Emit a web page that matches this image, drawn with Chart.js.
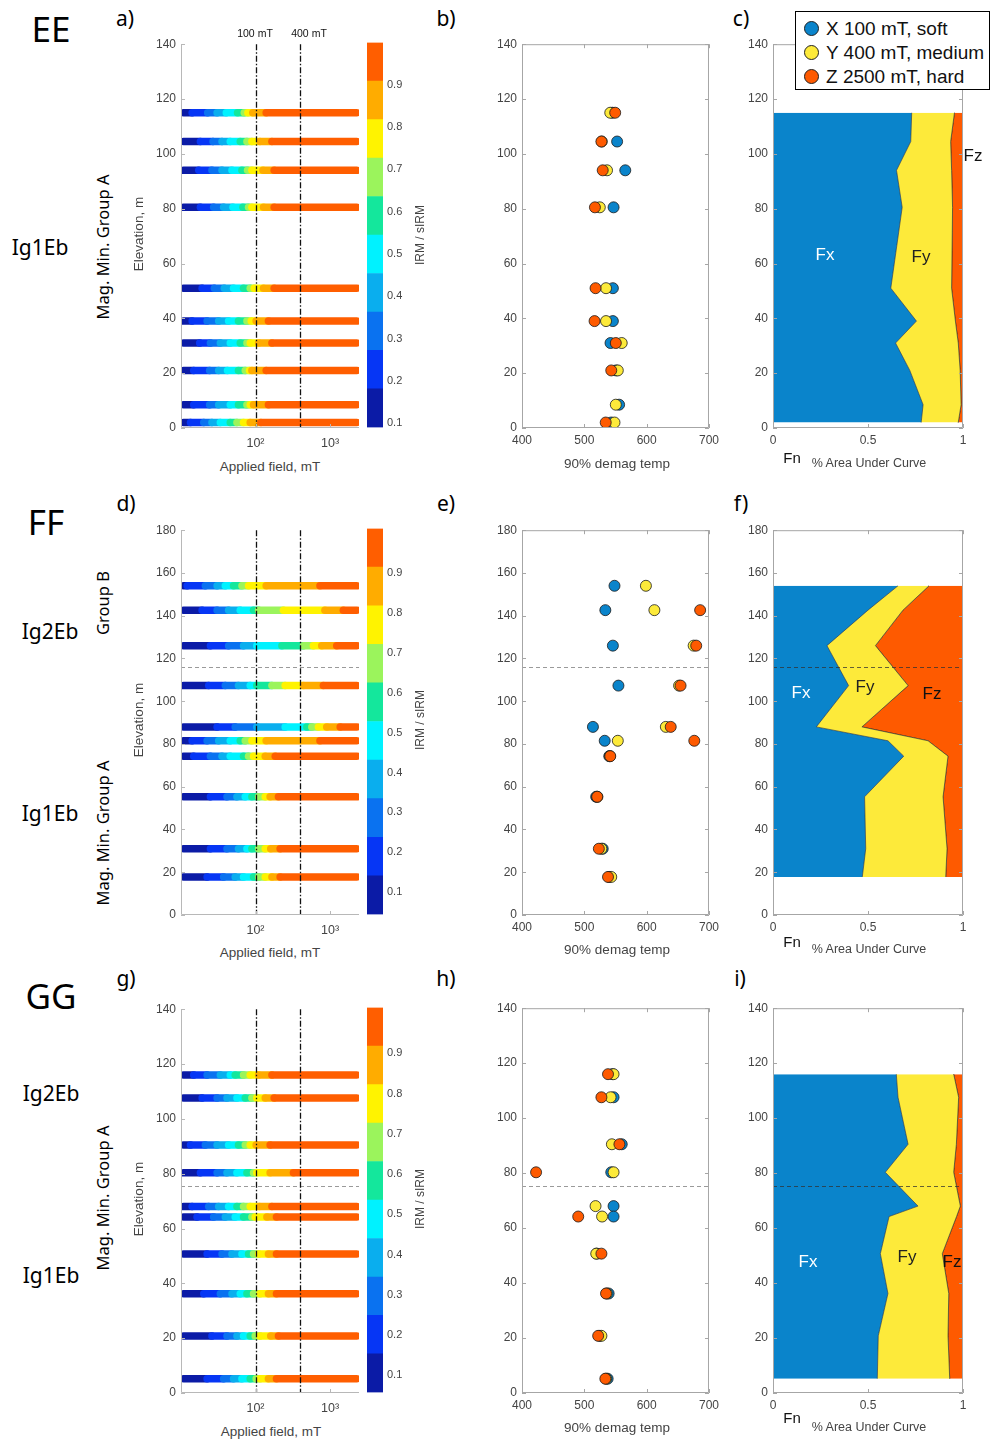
<!DOCTYPE html>
<html>
<head>
<meta charset="utf-8">
<script src="https://cdn.jsdelivr.net/npm/chart.js@4.4.1/dist/chart.umd.min.js"></script>
<style>
  body { margin: 0; background: #fff; }
  #page { position: relative; width: 1000px; height: 1441px; overflow: hidden; background: #fff; font-family: "Liberation Sans", Arial, sans-serif; }
  canvas { position: absolute; }
  .t { position: absolute; white-space: nowrap; line-height: 1; transform: translate(-50%, -50%); }
  .r { transform: translate(-50%, -50%) rotate(-90deg); }
  .big { font-family: "Noto Sans", "Open Sans", sans-serif; }
</style>
</head>
<body>
<div id="page"></div>
<script>
// colour levels of the IRM / sIRM colour bar (dark blue -> orange)
const bandColors = ['#0b1ba6', '#0636f5', '#0a72f0', '#0aaeee', '#00f2ff', '#14e79c', '#9bf45c', '#fff300', '#ffac00', '#ff5e00'];
const softColor = '#0a84cb', medColor = '#fdea3a', hardColor = '#fe5a00';
const legendLabels = ['X 100 mT, soft', 'Y 400 mT, medium', 'Z 2500 mT, hard'];

// ticks
const elevTicks140 = [0, 20, 40, 60, 80, 100, 120, 140];
const elevTicks180 = [0, 20, 40, 60, 80, 100, 120, 140, 160, 180];
const fieldTicks = [100, 1000];
const fieldTickLabels = ['10²', '10³'];
const tempTicks = [400, 500, 600, 700];
const fracTicks = [0, 0.5, 1];
const fracTickLabels = ['0', '0.5', '1'];
const cbarTicks = [0.1, 0.2, 0.3, 0.4, 0.5, 0.6, 0.7, 0.8, 0.9];
const refFields = [100, 400];

// ---- EE ----
const eeElev = [115, 104.5, 94, 80.5, 51, 39, 31, 21, 8.5, 2];
// field (mT) where each colour level starts, last value = end of the row
const eeIrmSteps = [
  [10.8, 14.1, 22.8, 30.5, 40.5, 57.4, 70.6, 79, 92, 139, 2300],
  [10.8, 18.2, 26.9, 35.5, 45.8, 62.4, 76.7, 89.4, 115, 166, 2300],
  [10.8, 17.3, 26, 35.5, 48.3, 65.7, 78.2, 89.4, 126, 178, 2300],
  [10.8, 18.2, 27.4, 37.3, 49.8, 67.8, 80.6, 89.4, 128, 178, 2300],
  [10.8, 19.2, 28, 38.1, 50.7, 69, 84.9, 96, 128, 178, 2300],
  [10.8, 14.1, 22.4, 32, 43.5, 59, 76.7, 87.6, 102, 149, 2300],
  [10.8, 17.8, 24.8, 33.7, 45.8, 62.4, 76.7, 85, 110, 166, 2300],
  [10.8, 14.8, 24.2, 32, 42.1, 59, 72.8, 83, 89.4, 139, 2300],
  [10.8, 14.8, 24.2, 32, 45.8, 59, 76.7, 84.9, 94, 149, 2300],
  [10.8, 13.4, 20.2, 26, 33.7, 45.8, 56.3, 69, 84.9, 118, 2300]
];
const eeT90Soft = [545, 552.6, 565.7, 546.9, 545.8, 545.8, 542, 551, 555.8, 543];
const eeT90Med = [541.6, 528, 536.4, 524.8, 534.8, 534.8, 560, 553.7, 550.5, 548.4];
const eeT90Hard = [549.5, 527.4, 529.5, 517, 518, 516.4, 550.5, 543.2, null, 534.3];
const eeFx = [0.73, 0.725, 0.65, 0.68, 0.62, 0.755, 0.645, 0.72, 0.79, 0.78];
const eeFy = [0.225, 0.21, 0.29, 0.265, 0.32, 0.205, 0.33, 0.265, 0.2, 0.195];
const eeCbarRange = [0.09, 1.0];

// ---- FF ----
const ffElev = [154, 142.6, 126, 107.3, 88, 81.5, 74.3, 55.3, 31, 17.8];
const ffIrmSteps = [
  [10.8, 12.1, 21.2, 30.5, 39.3, 50.7, 65.8, 80.6, 139, 733, 2300],
  [10.8, 19.2, 30.5, 43.5, 62.4, 94, 110, 237, 854, 1510, 2300],
  [10.8, 24.8, 43.5, 69, 104, 226, 440, 598, 774, 1230, 2300],
  [10.8, 23.5, 39.3, 59, 84.9, 104, 166, 250, 440, 814, 2300],
  [10.8, 30.5, 53.4, 104, 250, 488, 570, 698, 903, 1370, 2300],
  [10.8, 14.1, 22.4, 32, 45.8, 62.4, 72.8, 89.4, 139, 733, 2300],
  [10.8, 14.8, 24.8, 35.5, 45.8, 69, 80.6, 94, 135, 184, 2300],
  [10.8, 24.8, 41.4, 56.3, 72.8, 89.4, 110, 135, 157, 203, 2300],
  [10.8, 24.8, 41.4, 59, 76.7, 89.4, 110, 135, 160, 214, 2300],
  [10.8, 22.4, 37.3, 53.4, 69, 94, 110, 135, 166, 214, 2300]
];
const ffT90Soft = [548.4, 533.7, 545.8, 554.7, 513.8, 532.7, 540, 519, 529.5, 540];
const ffT90Med = [598.8, 612.4, 675.4, 652, 630.8, 553.7, 541, 521, 527.4, 543.2];
const ffT90Hard = [null, 685.8, 679.5, 654.4, 638.6, 676.4, 541.6, 520.6, 523.3, 538];
const ffFx = [0.658, 0.5, 0.284, 0.398, 0.228, 0.605, 0.688, 0.482, 0.488, 0.47];
const ffFy = [0.163, 0.184, 0.255, 0.313, 0.24, 0.211, 0.233, 0.413, 0.428, 0.439];
const ffCbarRange = [0.045, 1.01];
const ffGroupTop = 115.8;

// ---- GG ----
const ggElev = [116, 107.6, 90.5, 80.3, 68, 64.2, 50.7, 36.2, 20.8, 5.2];
const ggIrmSteps = [
  [10.8, 14.8, 22.4, 33.7, 45.8, 53.4, 69, 84.9, 110, 166, 2300],
  [10.8, 19.2, 30.5, 41.4, 56.3, 72.8, 89.4, 104, 135, 178, 2300],
  [10.8, 13.4, 21.2, 30.5, 43.5, 59, 72.8, 84.9, 102, 157, 2300],
  [10.8, 18.2, 30.5, 41.4, 56.3, 76.7, 94, 104, 157, 323, 2300],
  [10.8, 14.1, 23.5, 32, 43.5, 56.3, 69, 84.9, 113, 166, 2300],
  [10.8, 16.4, 27.4, 39.3, 53.4, 69, 89.4, 99, 142, 191, 2300],
  [10.8, 22.4, 35.5, 48.3, 65.7, 80.6, 94, 110, 149, 191, 2300],
  [10.8, 20.2, 33.7, 48.3, 62.4, 76.7, 94, 115, 149, 191, 2300],
  [10.8, 26, 41.4, 56.3, 69, 84.9, 99, 115, 160, 203, 2300],
  [10.8, 22.4, 37.3, 50.7, 65.7, 84.9, 102, 115, 149, 191, 2300]
];
const ggT90Soft = [545, 546.9, 560, 543.2, 546.9, 546.9, 520, 539, 525, 537.4];
const ggT90Med = [546.9, 542.1, 544.2, 546.9, 518, 528.5, 519.1, 536, 527.4, 535];
const ggT90Hard = [538, 527.4, 556.3, 422.6, null, 490.2, 527.4, 534.8, 522.2, 533.7];
const ggFx = [0.649, 0.658, 0.711, 0.591, 0.763, 0.611, 0.565, 0.605, 0.554, 0.549];
const ggFy = [0.302, 0.319, 0.254, 0.36, 0.223, 0.355, 0.326, 0.32, 0.367, 0.381];
const ggCbarRange = [0.057, 1.014];
const ggGroupTop = 75.4;

const page = document.getElementById('page');
const FONT = { family: '"Liberation Sans", Arial, sans-serif', size: 12 };

// draws the axis lines / box and inward tick marks
const frame = {
  id: 'frame',
  afterDraw(chart, args, o) {
    const { ctx, chartArea: a } = chart;
    const xs = chart.scales.x, ys = chart.scales.y;
    ctx.save();
    ctx.strokeStyle = o.color || '#a6a6a6';
    ctx.lineWidth = 1;
    ctx.beginPath();
    if (o.box) {
      ctx.rect(a.left + 0.5, a.top + 0.5, a.width - 1, a.height - 1);
    } else {
      ctx.moveTo(a.left + 0.5, a.top);
      ctx.lineTo(a.left + 0.5, a.bottom - 0.5);
      ctx.lineTo(a.right, a.bottom - 0.5);
    }
    const len = 4;
    xs.ticks.forEach((t, i) => {
      const p = Math.round(xs.getPixelForTick(i)) + 0.5;
      ctx.moveTo(p, a.bottom); ctx.lineTo(p, a.bottom - len);
      if (o.box) { ctx.moveTo(p, a.top); ctx.lineTo(p, a.top + len); }
    });
    ys.ticks.forEach((t, i) => {
      const p = Math.round(ys.getPixelForTick(i)) + 0.5;
      ctx.moveTo(a.left, p); ctx.lineTo(a.left + len, p);
      if (o.box) { ctx.moveTo(a.right, p); ctx.lineTo(a.right - len, p); }
    });
    ctx.stroke();
    ctx.restore();
  }
};

// reference lines: 100 / 400 mT and group boundary
const refs = {
  id: 'refs',
  afterDatasetsDraw(chart, args, o) {
    const { ctx, chartArea: a, scales: { x, y } } = chart;
    ctx.save();
    if (o.hy != null) {
      ctx.strokeStyle = o.hColor;
      ctx.lineWidth = 1;
      ctx.setLineDash([4, 3]);
      const p = Math.round(y.getPixelForValue(o.hy)) + 0.5;
      ctx.beginPath(); ctx.moveTo(a.left, p); ctx.lineTo(a.right, p); ctx.stroke();
    }
    (o.vx || []).forEach(v => {
      ctx.strokeStyle = '#111';
      ctx.lineWidth = 1.3;
      ctx.setLineDash([6, 2, 1.5, 2]);
      const p = Math.round(x.getPixelForValue(v)) + 0.5;
      ctx.beginPath(); ctx.moveTo(p, a.top); ctx.lineTo(p, a.bottom); ctx.stroke();
    });
    ctx.restore();
  }
};

function axis(extra, ticks, labels, pad, size) {
  return Object.assign({
    grid: { display: false, drawTicks: false },
    border: { display: false },
    ticks: {
      font: { family: FONT.family, size: size || FONT.size }, color: '#444', padding: pad,
      autoSkip: false, maxRotation: 0,
      callback: (v, i) => labels ? labels[i] : String(v)
    },
    afterBuildTicks: s => { s.ticks = ticks.map(v => ({ value: v })); }
  }, extra);
}

function make(rect, pads, config) {
  const [pl, pr, pt, pb] = pads;
  const c = document.createElement('canvas');
  const w = rect[2] - rect[0] + pl + pr, h = rect[3] - rect[1] + pt + pb;
  c.width = w; c.height = h;
  c.style.width = w + 'px'; c.style.height = h + 'px';
  c.style.left = (rect[0] - pl) + 'px'; c.style.top = (rect[1] - pt) + 'px';
  page.appendChild(c);
  config.options = Object.assign({ responsive: false, animation: false, devicePixelRatio: 1, events: [] }, config.options);
  config.options.plugins = Object.assign({ legend: { display: false }, tooltip: { enabled: false } }, config.options.plugins);
  return new Chart(c, config);
}

function irmChart(rect, elev, steps, yTicks, yMax, groupTop) {
  const datasets = elev.map((e, i) => {
    const s = steps[i], pts = [], bands = [];
    for (let k = 0; k < bandColors.length; k++) {
      if (s[k + 1] > s[k]) { pts.push({ x: s[k], y: e }); bands.push(k); }
    }
    pts.push({ x: s[s.length - 1], y: e });
    return {
      data: pts, showLine: true, pointRadius: 0, borderWidth: 7.5, borderCapStyle: 'round',
      borderColor: bandColors[9],
      segment: { borderColor: ctx => bandColors[bands[ctx.p0DataIndex]] }
    };
  });
  make(rect, [45, 8, 10, 30], {
    type: 'scatter',
    data: { datasets },
    options: {
      layout: { padding: { top: 10, right: 8, left: 0, bottom: 0 } },
      scales: {
        x: axis({ type: 'logarithmic', min: 10, max: 2450, afterFit: s => { s.height = 30; } }, fieldTicks, fieldTickLabels, 8, 12.5),
        y: axis({ type: 'linear', min: 0, max: yMax, afterFit: s => { s.width = 45; } }, yTicks, null, 5)
      },
      plugins: { frame: { box: false, color: '#b8b8b8' }, refs: { vx: refFields, hy: groupTop, hColor: '#9a9a9a' } }
    },
    plugins: [frame, refs]
  });
}

function cbarChart(rect, range) {
  const step = (range[1] - range[0]) / bandColors.length;
  const datasets = bandColors.map((c, k) => ({
    data: [[range[0] + k * step, range[0] + (k + 1) * step]],
    backgroundColor: c, borderWidth: 0, grouped: false, barPercentage: 1, categoryPercentage: 1
  }));
  make(rect, [0, 32, 10, 10], {
    type: 'bar',
    data: { labels: [''], datasets },
    options: {
      layout: { padding: { top: 10, right: 0, left: 0, bottom: 10 } },
      scales: {
        x: { display: false },
        y: axis({ position: 'right', min: range[0], max: range[1], afterFit: s => { s.width = 32; } },
          cbarTicks, cbarTicks.map(v => v.toFixed(1)), 4, 11)
      }
    }
  });
}

function t90Chart(rect, elev, soft, med, hard, yTicks, yMax, groupTop) {
  const ds = (vals, color) => ({
    data: vals.map((v, i) => v == null ? null : { x: v, y: elev[i] }).filter(Boolean),
    backgroundColor: color, borderColor: '#1a1a1a', borderWidth: 0.8, pointRadius: 5.5
  });
  // first dataset is drawn on top: hard over medium over soft
  make(rect, [45, 12, 10, 30], {
    type: 'scatter',
    data: { datasets: [ds(hard, hardColor), ds(med, medColor), ds(soft, softColor)] },
    options: {
      layout: { padding: { top: 10, right: 12, left: 0, bottom: 0 } },
      scales: {
        x: axis({ type: 'linear', min: 400, max: 700, afterFit: s => { s.height = 30; } }, tempTicks, null, 5),
        y: axis({ type: 'linear', min: 0, max: yMax, afterFit: s => { s.width = 45; } }, yTicks, null, 5)
      },
      plugins: { frame: { box: true }, refs: { hy: groupTop, hColor: '#9a9a9a' } }
    },
    plugins: [frame, refs]
  });
}

function areaChart(rect, elev, fx, fy, yTicks, yMax, groupTop) {
  const soft = elev.map((e, i) => ({ x: fx[i], y: e }));
  const med = elev.map((e, i) => ({ x: fx[i] + fy[i], y: e }));
  const edge = 'rgba(45,45,45,0.75)';
  make(rect, [45, 12, 10, 30], {
    type: 'line',
    data: {
      datasets: [
        { data: soft, fill: 'origin', backgroundColor: softColor, borderColor: edge, borderWidth: 0.8, pointRadius: 0, tension: 0 },
        { data: med, fill: '-1', backgroundColor: medColor, borderColor: edge, borderWidth: 0.8, pointRadius: 0, tension: 0 },
        { data: med, fill: 'end', backgroundColor: hardColor, borderColor: edge, borderWidth: 0.8, pointRadius: 0, tension: 0 }
      ]
    },
    options: {
      indexAxis: 'y',
      layout: { padding: { top: 10, right: 12, left: 0, bottom: 0 } },
      scales: {
        x: axis({ type: 'linear', min: 0, max: 1, afterFit: s => { s.height = 30; } }, fracTicks, fracTickLabels, 5),
        y: axis({ type: 'linear', min: 0, max: yMax, afterFit: s => { s.width = 45; } }, yTicks, null, 5)
      },
      plugins: { frame: { box: true }, refs: { hy: groupTop, hColor: 'rgba(50,50,50,0.75)' } }
    },
    plugins: [frame, refs]
  });
}

// row 1
irmChart([181, 42, 359, 428], eeElev, eeIrmSteps, elevTicks140, 140, null);
cbarChart([367, 42, 383, 428], eeCbarRange);
t90Chart([522, 42, 712, 428], eeElev, eeT90Soft, eeT90Med, eeT90Hard, elevTicks140, 140, null);
areaChart([773, 42, 963, 428], eeElev, eeFx, eeFy, elevTicks140, 140, null);
// row 2
irmChart([181, 528, 359, 915], ffElev, ffIrmSteps, elevTicks180, 180, ffGroupTop);
cbarChart([367, 528, 383, 915], ffCbarRange);
t90Chart([522, 528, 712, 915], ffElev, ffT90Soft, ffT90Med, ffT90Hard, elevTicks180, 180, ffGroupTop);
areaChart([773, 528, 963, 915], ffElev, ffFx, ffFy, elevTicks180, 180, ffGroupTop);
// row 3
irmChart([181, 1007, 359, 1393], ggElev, ggIrmSteps, elevTicks140, 140, ggGroupTop);
cbarChart([367, 1007, 383, 1393], ggCbarRange);
t90Chart([522, 1006, 712, 1393], ggElev, ggT90Soft, ggT90Med, ggT90Hard, elevTicks140, 140, ggGroupTop);
areaChart([773, 1006, 963, 1393], ggElev, ggFx, ggFy, elevTicks140, 140, ggGroupTop);

// text: [text, centre x, centre y, size, class, colour]
const texts = [
  ['EE', 51, 28, 35, 'big', '#000'], ['FF', 46, 521, 35, 'big', '#000'], ['GG', 51, 995, 35, 'big', '#000'],
  ['a)', 125, 18, 21, 'big', '#000'], ['b)', 446, 18, 21, 'big', '#000'], ['c)', 741, 18, 21, 'big', '#000'],
  ['d)', 126, 503, 21, 'big', '#000'], ['e)', 446, 503, 21, 'big', '#000'], ['f)', 741, 503, 21, 'big', '#000'],
  ['g)', 126, 978, 21, 'big', '#000'], ['h)', 446, 978, 21, 'big', '#000'], ['i)', 740, 978, 21, 'big', '#000'],
  ['Ig1Eb', 40, 247, 21, 'big', '#000'], ['Ig2Eb', 50, 631, 21, 'big', '#000'], ['Ig1Eb', 50, 813, 21, 'big', '#000'],
  ['Ig2Eb', 51, 1093, 21, 'big', '#000'], ['Ig1Eb', 51, 1275, 21, 'big', '#000'],
  ['Mag. Min. Group A', 103, 247, 16.5, 'big r', '#000'], ['Group B', 103, 603, 16.5, 'big r', '#000'],
  ['Mag. Min. Group A', 103, 833, 16.5, 'big r', '#000'], ['Mag. Min. Group A', 103, 1198, 16.5, 'big r', '#000'],
  ['Elevation, m', 139, 234, 13.5, 'r', '#444'], ['Elevation, m', 139, 720, 13.5, 'r', '#444'], ['Elevation, m', 139, 1199, 13.5, 'r', '#444'],
  ['IRM / sIRM', 420, 235, 12, 'r', '#444'], ['IRM / sIRM', 420, 720, 12, 'r', '#444'], ['IRM / sIRM', 420, 1199, 12, 'r', '#444'],
  ['Applied field, mT', 270, 467, 13.5, '', '#444'], ['Applied field, mT', 270, 953, 13.5, '', '#444'], ['Applied field, mT', 271, 1432, 13.5, '', '#444'],
  ['90% demag temp', 617, 464, 13.5, '', '#444'], ['90% demag temp', 617, 950, 13.5, '', '#444'], ['90% demag temp', 617, 1428, 13.5, '', '#444'],
  ['% Area Under Curve', 869, 463, 12.5, '', '#444'], ['% Area Under Curve', 869, 949, 12.5, '', '#444'], ['% Area Under Curve', 869, 1427, 12.5, '', '#444'],
  ['Fn', 792, 457, 15, '', '#111'], ['Fn', 792, 941, 15, '', '#111'], ['Fn', 792, 1417, 15, '', '#111'],
  ['100 mT', 255, 33, 10.5, '', '#111'], ['400 mT', 309, 33, 10.5, '', '#111'],
  ['Fx', 825, 254, 17, '', '#fff'], ['Fy', 921, 256, 17, '', '#222'], ['Fz', 973, 155, 17, '', '#111'],
  ['Fx', 801, 692, 17, '', '#fff'], ['Fy', 865, 686, 17, '', '#222'], ['Fz', 932, 693, 17, '', '#111'],
  ['Fx', 808, 1261, 17, '', '#fff'], ['Fy', 907, 1256, 17, '', '#222'], ['Fz', 952, 1261, 17, '', '#111']
];
texts.forEach(([s, x, y, size, cls, color]) => {
  const d = document.createElement('div');
  d.className = 't ' + cls;
  d.textContent = s;
  d.style.left = x + 'px'; d.style.top = y + 'px';
  d.style.fontSize = size + 'px'; d.style.color = color;
  page.appendChild(d);
});

// legend
const leg = document.createElement('div');
leg.style.cssText = 'position:absolute;left:795px;top:11px;width:193px;height:77px;border:1px solid #000;background:#fff;';
[softColor, medColor, hardColor].forEach((c, i) => {
  const dot = document.createElement('div');
  dot.style.cssText = `position:absolute;left:8px;top:${9 + i * 24}px;width:13px;height:13px;border-radius:50%;border:1px solid #222;background:${c};`;
  const tx = document.createElement('div');
  tx.className = 't';
  tx.style.cssText = `left:30px;top:${16 + i * 24}px;transform:translate(0,-50%);font-size:19px;color:#111;`;
  tx.textContent = legendLabels[i];
  leg.appendChild(dot); leg.appendChild(tx);
});
page.appendChild(leg);
</script>
</body>
</html>
